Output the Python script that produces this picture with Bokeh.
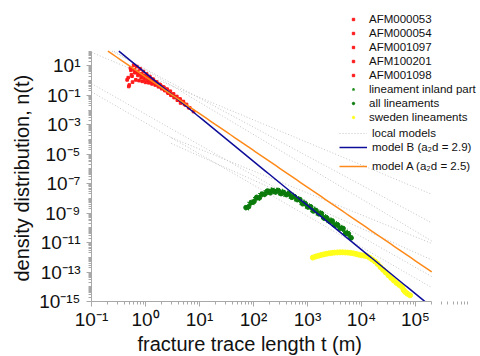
import numpy as np
from bokeh.plotting import figure
from bokeh.models import FixedTicker, Legend, LegendItem, CustomJSTickFormatter, Title
from bokeh.embed import file_html
from bokeh.resources import INLINE

FONT = "Liberation Sans"

# ---- data (log10 of trace length t in m, log10 of n(t)) ----
afm000053_log_t = [-0.34, -0.28, -0.22, -0.16, -0.10, -0.04, 0.02, 0.08, 0.14, 0.20,
                   0.26, 0.32, 0.38, 0.44, 0.50, 0.56, 0.62, 0.68, 0.74, 0.80]
afm000053_log_n = [0.05, 0.85, 1.05, 0.95, 0.80, 0.62, 0.45, 0.28, 0.10, -0.08,
                   -0.25, -0.42, -0.60, -0.78, -0.95, -1.12, -1.30, -1.48, -1.66, -1.84]

afm000054_log_t = [-0.31, -0.25, -0.19, -0.13, -0.07, -0.01, 0.05, 0.11, 0.17, 0.23,
                   0.29, 0.35, 0.41, 0.47, 0.53, 0.59, 0.65]
afm000054_log_n = [-0.40, 0.30, 0.55, 0.50, 0.40, 0.30, 0.18, 0.02, -0.12, -0.28,
                   -0.45, -0.62, -0.80, -0.98, -1.15, -1.33, -1.52]

afm001097_log_t = [-0.32, -0.27, -0.21, -0.15, -0.09, -0.03, 0.03, 0.09, 0.15, 0.21,
                   0.27, 0.33, 0.39, 0.45, 0.51, 0.57, 0.63, 0.70]
afm001097_log_n = [0.20, 0.70, 0.75, 0.62, 0.45, 0.35, 0.30, 0.15, -0.02, -0.15,
                   -0.30, -0.48, -0.62, -0.80, -0.98, -1.10, -1.28, -1.45]

afm100201_log_t = [-0.30, -0.24, -0.18, -0.12, -0.06, 0.00, 0.06, 0.12, 0.18, 0.24,
                   0.30, 0.36, 0.42, 0.48, 0.54, 0.60, 0.66, 0.72]
afm100201_log_n = [-0.30, -0.10, 0.05, 0.00, -0.05, -0.12, -0.15, -0.22, -0.30, -0.42,
                   -0.55, -0.68, -0.85, -1.00, -1.12, -1.28, -1.42, -1.60]

afm001098_log_t = [-0.26, -0.20, -0.14, -0.08, -0.02, 0.04, 0.10, 0.16, 0.22, 0.28,
                   0.34, 0.40, 0.46, 0.52, 0.58, 0.64, 0.70, 0.76, 0.82, 0.89]
afm001098_log_n = [0.40, 0.55, 0.35, 0.20, 0.10, 0.05, -0.05, -0.10, -0.20, -0.32,
                   -0.45, -0.58, -0.72, -0.90, -1.08, -1.25, -1.42, -1.62, -1.85, -2.10]

inland_log_t = [1.885, 1.935, 1.985, 2.035, 2.085, 2.135, 2.185, 2.235, 2.285, 2.335,
                2.385, 2.435, 2.485, 2.535, 2.585, 2.635, 2.685, 2.735, 2.785, 2.835,
                2.885, 2.935, 2.985, 3.035, 3.085, 3.135, 3.185, 3.235, 3.285, 3.335,
                3.385, 3.435, 3.485, 3.535, 3.585, 3.635, 3.685, 3.735, 3.785]
inland_log_n = [-8.66, -8.32, -8.31, -7.99, -8.01, -7.72, -7.77, -7.53, -7.62, -7.43,
                -7.58, -7.44, -7.64, -7.52, -7.74, -7.64, -7.87, -7.79, -8.05, -8.01,
                -8.29, -8.25, -8.54, -8.51, -8.78, -8.73, -9.01, -8.97, -9.26, -9.23,
                -9.52, -9.47, -9.75, -9.71, -9.99, -9.97, -10.28, -10.30, -10.60]

all_lin_log_t = [1.86, 1.91, 1.96, 2.01, 2.06, 2.11, 2.16, 2.21, 2.26, 2.31,
                 2.36, 2.41, 2.46, 2.51, 2.56, 2.61, 2.66, 2.71, 2.76, 2.81,
                 2.86, 2.91, 2.96, 3.01, 3.06, 3.11, 3.16, 3.21, 3.26, 3.31,
                 3.36, 3.41, 3.46, 3.51, 3.56, 3.61, 3.66, 3.71, 3.76, 3.81]
all_lin_log_n = [-8.62, -8.56, -8.27, -8.21, -7.92, -7.96, -7.70, -7.71, -7.49, -7.62,
                 -7.46, -7.57, -7.46, -7.68, -7.59, -7.75, -7.68, -7.93, -7.88, -8.09,
                 -8.07, -8.37, -8.36, -8.59, -8.57, -8.86, -8.83, -9.05, -9.03, -9.35,
                 -9.34, -9.56, -9.53, -9.83, -9.81, -10.04, -10.04, -10.38, -10.41, -10.68]

sweden_log_t = [3.10, 3.15, 3.20, 3.25, 3.30, 3.35, 3.40, 3.45, 3.50, 3.55,
                3.60, 3.65, 3.70, 3.75, 3.80, 3.85, 3.90, 3.95, 4.00, 4.05,
                4.10, 4.15, 4.20, 4.25, 4.30, 4.35, 4.40, 4.45, 4.50, 4.55,
                4.60, 4.65, 4.70, 4.75, 4.78, 4.81, 4.85, 4.90]
sweden_log_n = [-12.02, -11.95, -11.90, -11.85, -11.80, -11.76, -11.73, -11.70, -11.68, -11.67,
                -11.66, -11.66, -11.67, -11.68, -11.70, -11.73, -11.77, -11.82, -11.86, -11.89,
                -11.92, -12.02, -12.15, -12.28, -12.45, -12.66, -12.85, -13.03, -13.22, -13.40,
                -13.58, -13.74, -13.88, -14.01, -14.22, -14.35, -14.47, -14.58]

# power-law models n(t) = C * t^(-a), as drawn
model_b_log_c, model_b_slope = 0.52, 3.0
model_a_log_c, model_a_slope = 0.26, 2.5
local_log_c = [0.39, -2.28, -2.87, 0.72, 0.78, -3.16, -3.48]
local_slope = [1.53, 2.08, 2.11, 2.19, 1.97, 1.49, 1.64]
local_t_start = [0.1, 0.1, 0.1, 0.1, 0.1, 3.0, 3.0]

afm_names = ["AFM000053", "AFM000054", "AFM001097", "AFM100201", "AFM001098"]
x_label_exps = [-1, 0, 1, 2, 3, 4, 5]
y_label_exps = [1, -1, -3, -5, -7, -9, -11, -13, -15]

# axis extents (data units); the frame extends beyond them so the legend is not clipped
X_MIN, X_MAX = 0.1, 2e5
Y_MIN, Y_MAX = 1e-15, 1e2
FRAME_X_END = 10 ** 6.204
FRAME_Y_END = 10 ** 5.44

p = figure(width=480, height=356, x_axis_type="log", y_axis_type="log",
           x_range=(X_MIN, FRAME_X_END), y_range=(Y_MIN, FRAME_Y_END),
           output_backend="svg", toolbar_location=None,
           min_border_left=91, min_border_right=0, min_border_top=0, min_border_bottom=53)
p.outline_line_color = None
p.grid.visible = False
p.background_fill_color = "white"


def power_line(log_c, slope, t_start=X_MIN):
    c = 10.0 ** log_c
    t0 = max(t_start, (c / Y_MAX) ** (1.0 / slope))
    t = np.logspace(np.log10(t0), np.log10(X_MAX), 80)
    return t, c * t ** (-slope)


local_rs = []
for c, a, s in zip(local_log_c, local_slope, local_t_start):
    tt, nn = power_line(c, a, s)
    local_rs.append(p.line(tt, nn, line_color="#c4c4c4", line_dash="1 2", line_width=1))

afm_sets = [(afm000053_log_t, afm000053_log_n), (afm000054_log_t, afm000054_log_n),
            (afm001097_log_t, afm001097_log_n), (afm100201_log_t, afm100201_log_n),
            (afm001098_log_t, afm001098_log_n)]
afm_rs = []
for lt, ln in afm_sets:
    afm_rs.append(p.scatter(10.0 ** np.array(lt), 10.0 ** np.array(ln), marker="square",
                            size=2.6, color="#ff1a1a"))

r_inland = p.scatter(10.0 ** np.array(inland_log_t), 10.0 ** np.array(inland_log_n),
                     marker="star", size=5, color="#1a8c1a")
r_all = p.scatter(10.0 ** np.array(all_lin_log_t), 10.0 ** np.array(all_lin_log_n),
                  marker="circle", size=4.5, color="#0a7a0a")
r_sweden = p.scatter(10.0 ** np.array(sweden_log_t), 10.0 ** np.array(sweden_log_n),
                     marker="circle", size=5, color="#ffff1a")

tb, nb = power_line(model_b_log_c, model_b_slope)
r_b = p.line(tb, nb, line_color="#0d0d99", line_width=1.5)
ta, na = power_line(model_a_log_c, model_a_slope)
r_a = p.line(ta, na, line_color="#ff8a1a", line_width=1.5)

fmt = CustomJSTickFormatter(code="""
const e = Math.round(Math.log10(tick));
const sup = {"-": "\u207b", "0": "\u2070", "1": "\u00b9", "2": "\u00b2", "3": "\u00b3",
             "4": "\u2074", "5": "\u2075", "6": "\u2076", "7": "\u2077", "8": "\u2078", "9": "\u2079"};
return "10" + String(e).split("").map(c => sup[c]).join("");
""")

xa = p.xaxis[0]
ya = p.yaxis[0]
xa.bounds = (X_MIN, X_MAX)
ya.bounds = (Y_MIN, Y_MAX)
xa.ticker = FixedTicker(ticks=[10.0 ** e for e in x_label_exps],
                        minor_ticks=[m * 10.0 ** e for e in x_label_exps for m in range(2, 10)])
ya.ticker = FixedTicker(ticks=[10.0 ** e for e in y_label_exps],
                        minor_ticks=[m * 10.0 ** e for e in range(-15, 2) for m in range(1, 10)
                                     if not (m == 1 and e in y_label_exps)])
for ax in (xa, ya):
    ax.formatter = fmt
    ax.axis_line_color = "#a8a8a8"
    ax.major_tick_line_color = "#a8a8a8"
    ax.minor_tick_line_color = "#a8a8a8"
    ax.major_tick_in = 0
    ax.major_tick_out = 5
    ax.minor_tick_in = 0
    ax.minor_tick_out = 3
    ax.major_label_text_font = FONT
    ax.major_label_text_font_size = "19px"
    ax.major_label_text_color = "#111111"
xa.major_label_standoff = 2
ya.major_label_standoff = 6

title_style = dict(text_font=FONT, text_font_size="20px", text_font_style="normal",
                   text_color="#111111", align="left")
x_title = Title(text="fracture trace length t (m)", offset=46, standoff=0,
                vertical_align="top", **title_style)
y_title = Title(text="density distribution, n(t)", offset=20, standoff=8,
                vertical_align="bottom", **title_style)
p.add_layout(x_title, "below")
p.add_layout(y_title, "left")

marker_items = [LegendItem(label=n, renderers=[r]) for n, r in zip(afm_names, afm_rs)]
marker_items += [LegendItem(label="lineament inland part", renderers=[r_inland]),
                 LegendItem(label="all lineaments", renderers=[r_all]),
                 LegendItem(label="sweden lineaments", renderers=[r_sweden])]
line_items = [LegendItem(label="local models", renderers=[local_rs[0]]),
              LegendItem(label="model B (a\u2082d = 2.9)", renderers=[r_b])]
common = dict(padding=0, margin=0, spacing=2, label_height=12, glyph_height=12,
              label_text_font=FONT, label_text_font_size="11.5px",
              label_text_color="#111111", background_fill_alpha=0, border_line_alpha=0)
leg_markers = Legend(items=marker_items, location=(259, 178), glyph_width=6,
                     label_standoff=13, **common)
leg_lines = Legend(items=line_items, location=(248, 148), glyph_width=28,
                   label_standoff=5, **common)
leg_a = Legend(items=[LegendItem(label="model A (a\u2082d = 2.5)", renderers=[r_a])],
               location=(248, 129), glyph_width=28, label_standoff=5, **common)
p.add_layout(leg_markers)
p.add_layout(leg_lines)
p.add_layout(leg_a)

open("out.html", "w").write(file_html(p, INLINE))
